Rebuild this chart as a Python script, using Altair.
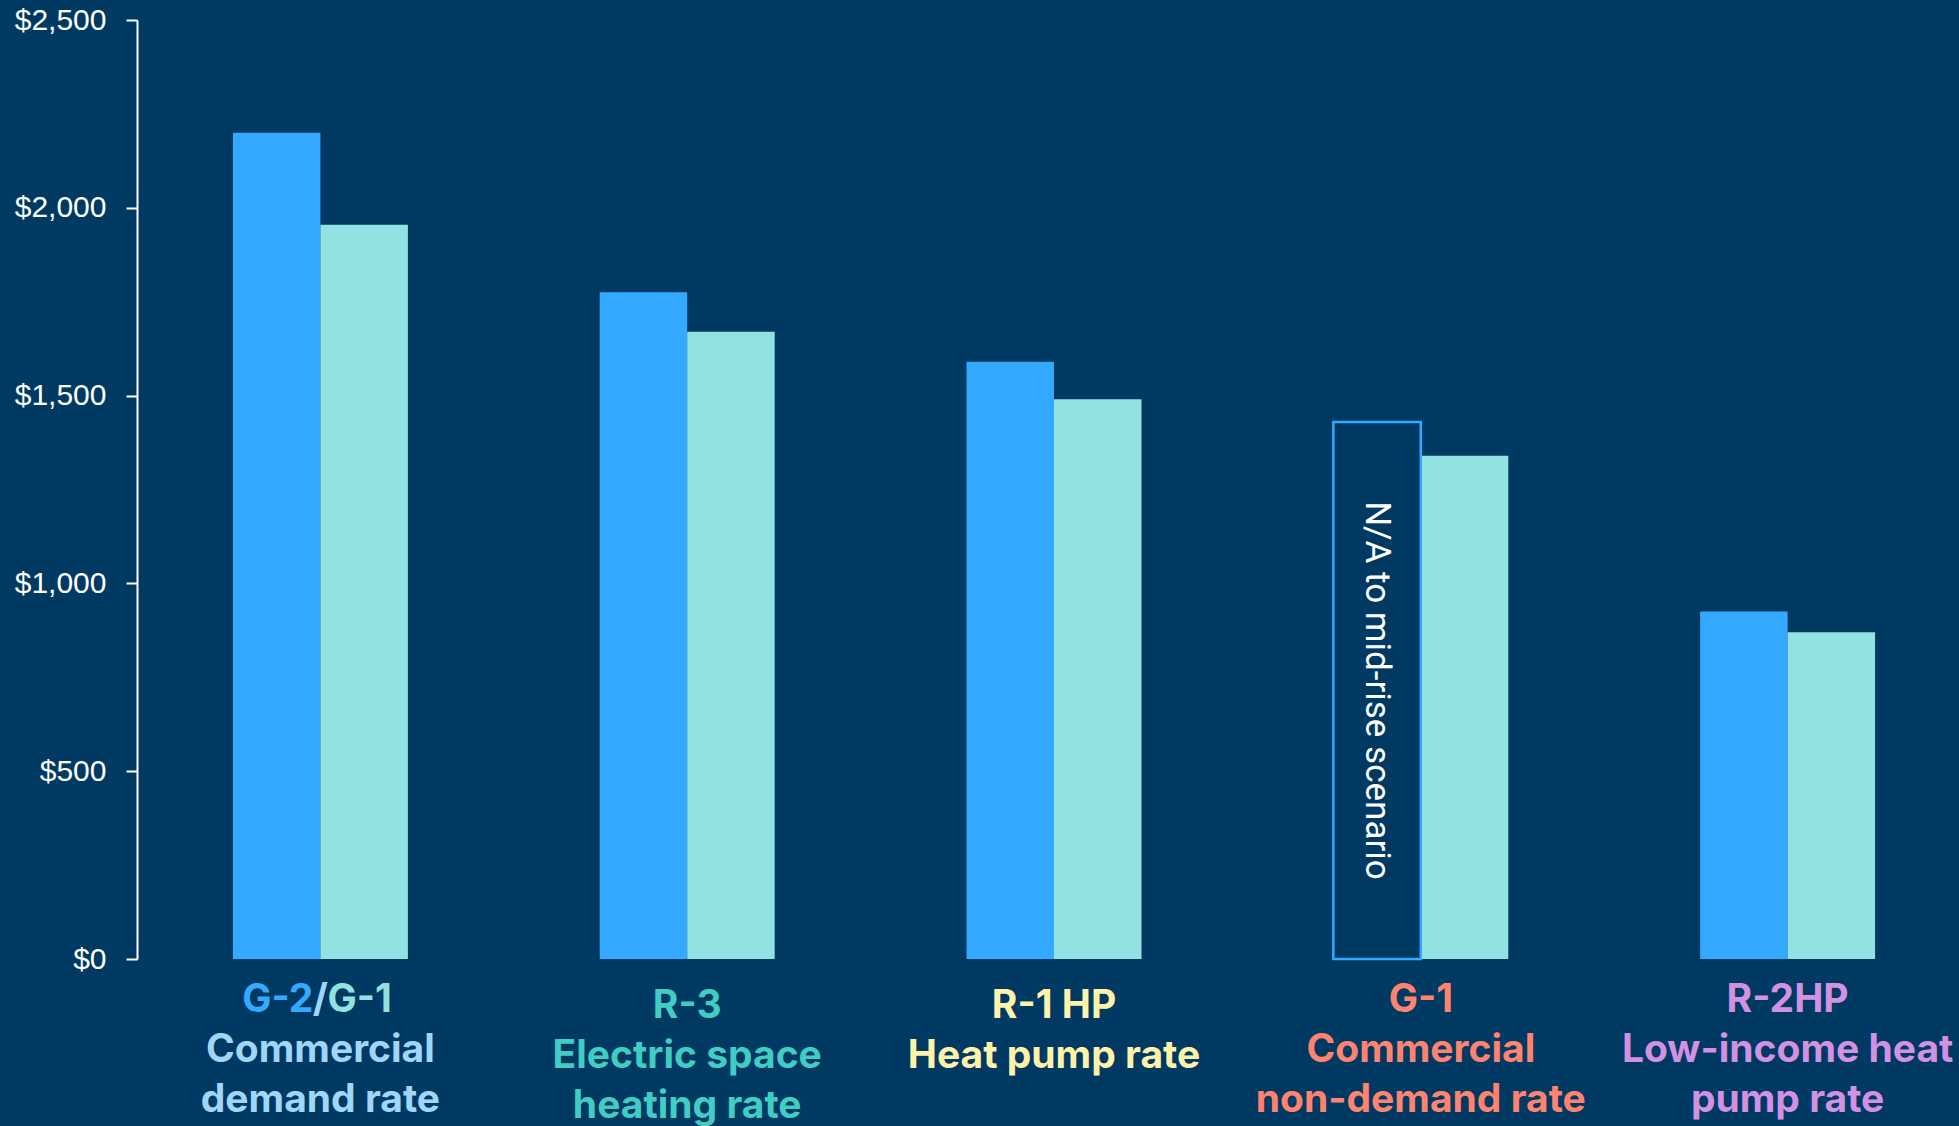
import altair as alt
import pandas as pd

# ---- data -------------------------------------------------------------
categories = ["G-2/G-1", "R-3", "R-1 HP", "G-1", "R-2HP"]
subtitles = [
    "Commercial\ndemand rate",
    "Electric space\nheating rate",
    "Heat pump rate",
    "Commercial\nnon-demand rate",
    "Low-income heat\npump rate",
]
series_names = ["Mid-rise", "Low-rise"]
midrise_cost = [2200, 1775, 1590, 1430, 925]
lowrise_cost = [1955, 1670, 1490, 1340, 870]
midrise_not_applicable = [False, False, False, True, False]
na_note = "N/A to mid-rise scenario"
y_ticks = [0, 500, 1000, 1500, 2000, 2500]

# ---- styling ----------------------------------------------------------
BG = "#003A63"
BLUE = "#33A9FF"
TEAL = "#91E2E0"
label_colors = ["#A0D6FA", "#41CCC4", "#FFF2AA", "#FF836F", "#D291E1"]
nudged = ["R-3", "R-1 HP"]  # label blocks sitting a few pixels lower

W, H = 1822, 939
LINE = 50
TITLE_Y = H + 53

rows = []
for i, cat in enumerate(categories):
    rows.append({"category": cat, "series": series_names[0], "value": midrise_cost[i],
                 "na": midrise_not_applicable[i], "note": na_note})
    rows.append({"category": cat, "series": series_names[1], "value": lowrise_cost[i],
                 "na": False, "note": ""})
bars_df = pd.DataFrame(rows)
labels_df = pd.DataFrame({"category": categories, "title": categories, "subtitle": subtitles})

x_enc = alt.X("category:N", sort=categories, axis=None,
              scale=alt.Scale(paddingInner=0.523, paddingOuter=0.2615, range=[0, 1834]))
xoff_enc = alt.XOffset("series:N", sort=series_names,
                       scale=alt.Scale(paddingInner=0, paddingOuter=0))
y_enc = alt.Y(
    "value:Q",
    scale=alt.Scale(domain=[0, 2500], nice=False),
    axis=alt.Axis(
        values=y_ticks, format="$,.0f", title=None, grid=False,
        labelFont="Liberation Sans", labelFontSize=30, labelColor="white",
        labelPadding=20, domainColor="white", domainWidth=2,
        tickColor="white", tickWidth=2, tickSize=11,
    ),
)

base = alt.Chart(bars_df).encode(x=x_enc, xOffset=xoff_enc, y=y_enc)

bars = base.transform_filter("!datum.na").mark_bar().encode(
    color=alt.Color("series:N", sort=series_names,
                    scale=alt.Scale(domain=series_names, range=[BLUE, TEAL]), legend=None)
)

na_box = base.transform_filter("datum.na").mark_bar(fill=BG, stroke=BLUE, strokeWidth=2.5)

na_text = (
    alt.Chart(bars_df)
    .transform_filter("datum.na")
    .transform_calculate(mid="datum.value / 2")
    .mark_text(angle=90, font="Roboto", fontSize=35, color="white",
               align="center", baseline="middle")
    .encode(x=x_enc, xOffset=xoff_enc, y=alt.Y("mid:Q"), text="note:N")
)

label_color = alt.Color("category:N", scale=alt.Scale(domain=categories, range=label_colors),
                        legend=None)
lab = alt.Chart(labels_df).encode(x=x_enc)
font_kw = dict(font="Inter", fontWeight="bold", fontSize=39, baseline="alphabetic")

is_nudged = "indexof(" + str(nudged).replace("'", '"') + ", datum.category) >= 0"
plain_title = "indexof(datum.title, '/') < 0"

layers = [bars, na_box, na_text]
for test, shift in [("!(" + is_nudged + ")", 0), (is_nudged, 6)]:
    layers.append(
        lab.transform_filter(plain_title).transform_filter(test)
        .mark_text(align="center", **font_kw)
        .encode(y=alt.value(TITLE_Y + shift), text="title:N", color=label_color)
    )
    layers.append(
        lab.transform_filter(test)
        .mark_text(align="center", lineBreak="\n", lineHeight=LINE, **font_kw)
        .encode(y=alt.value(TITLE_Y + LINE + shift), text="subtitle:N", color=label_color)
    )

# two-part title: first code in the mid-rise colour, second in the low-rise colour
split = lab.transform_filter("indexof(datum.title, '/') >= 0").transform_calculate(
    left="split(datum.title, '/')[0]", right="split(datum.title, '/')[1]", slash="'/'"
)
layers.append(split.mark_text(align="right", dx=-7, color=BLUE, **font_kw)
              .encode(y=alt.value(TITLE_Y), text="left:N"))
layers.append(split.mark_text(align="center", **font_kw)
              .encode(y=alt.value(TITLE_Y), text="slash:N", color=label_color))
layers.append(split.mark_text(align="left", dx=7, color=TEAL, **font_kw)
              .encode(y=alt.value(TITLE_Y), text="right:N"))

chart = (
    alt.layer(*layers)
    .resolve_scale(color="independent")
    .properties(
        width=W, height=H, background=BG,
        padding={"left": 137, "top": 20, "right": 0, "bottom": 167},
        autosize=alt.AutoSizeParams(type="none"),
    )
    .configure_view(stroke=None)
)

chart.save("out.html", embed_options={"renderer": "svg", "actions": False})
